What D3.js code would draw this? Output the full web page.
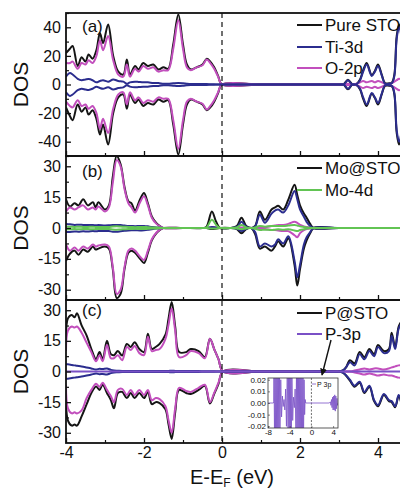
<!DOCTYPE html>
<html><head><meta charset="utf-8">
<script src="https://cdn.jsdelivr.net/npm/d3@7/dist/d3.min.js"></script>
<style>
body{margin:0;background:#fff;overflow:hidden}
text{font-family:"Liberation Sans",Arial,Helvetica,sans-serif;fill:#111}
</style></head>
<body><svg id="chart" width="400" height="490"></svg>
<script>
// ---------------- DATA ----------------
// Panel (a) Pure STO
const energyA = [-4.0,-3.9,-3.83,-3.7,-3.6,-3.5,-3.42,-3.32,-3.22,-3.13,-3.05,-2.92,-2.79,-2.66,-2.53,-2.44,-2.36,-2.23,-2.14,-2.02,-1.9,-1.76,-1.63,-1.5,-1.38,-1.25,-1.12,-1.0,-0.9,-0.8,-0.65,-0.5,-0.39,-0.3,-0.2,-0.1,0.0,
  1.0,2.0,3.0,3.12,3.23,3.34,3.45,3.54,3.62,3.71,3.84,3.92,4.0,4.1,4.18,4.28,4.36,4.42,4.48,4.54,4.62];
const pureSTOUp = [22,25,27,13,19,16,21,18,24,36,29,42,20,9,7,17.5,7,13,10.5,15,13,14,10.5,12,11,28,49,28,14,10.5,12,14,18,16,12,6,0,
  0,0,0,0.2,3.3,0.3,0.5,3.5,10,15,6.5,9.5,14,6.5,1,0.8,1.5,7,34,42,32];
const pureSTODown = [-16,-22,-25,-14,-19,-16,-21,-18,-24,-35,-28,-42,-20,-9,-7,-17,-7,-13,-10.5,-15,-13,-14,-10.5,-12,-11,-28,-49,-28,-14,-10.5,-12,-14,-18,-16,-12,-6,0,
  0,0,0,-0.2,-3.3,-0.3,-0.5,-3.5,-10,-15,-6.5,-9.5,-14,-6.5,-1,-0.8,-1.5,-7,-34,-42,-32];
const ti3dUpA = [5.5,8,7,4,3,3.5,3.8,3,1.5,2.5,3,2,3.5,2.5,2,0.5,1.5,2,1.8,1.5,1.5,1,1,0.5,0.5,0.8,1,0.8,0.5,0.3,0.3,0.3,0.3,0.2,0.1,0,0,
  0,0,0,0,3,0,0.3,3,9,14,6,9,13,6,0.5,0.5,1,6,32,40,30];
const ti3dDownA = [-5.5,-8,-7,-4,-3,-3.5,-3.8,-3,-1.5,-2.5,-3,-2,-3.5,-2.5,-2,-0.5,-1.5,-2,-1.8,-1.5,-1.5,-1,-1,-0.5,-0.5,-0.8,-1,-0.8,-0.5,-0.3,-0.3,-0.3,-0.3,-0.2,-0.1,0,0,
  0,0,0,0,-3,0,-0.3,-3,-9,-14,-6,-9,-13,-6,-0.5,-0.5,-1,-6,-32,-40,-30];
const o2pUpA = [15,15,16,11,15,14,17,15,20,31,24,34,17,7,5.5,14,5.5,11,9,13,11,12,9,10,10,25,45,25,12,10,12,13.5,17.5,15,11,5.5,0,
  0,0,0,0,0.5,0,0.5,1.5,2.5,1.5,2.5,1.5,2.5,1.5,0.5,0.3,1,2,3,4,3];
const o2pDownA = [-12,-15,-16,-11,-15,-14,-17,-15,-20,-31,-24,-34,-17,-7,-5.5,-14,-5.5,-11,-9,-13,-11,-12,-9,-10,-10,-25,-45,-25,-12,-10,-12,-13.5,-17.5,-15,-11,-5.5,0,
  0,0,0,0,-0.5,0,-0.5,-1.5,-2.5,-1.5,-2.5,-1.5,-2.5,-1.5,-0.5,-0.3,-1,-2,-3,-4,-3];

// Panel (b) Mo@STO
const energyB = [-4.0,-3.9,-3.78,-3.68,-3.56,-3.44,-3.31,-3.24,-3.17,-3.0,-2.9,-2.8,-2.7,-2.6,-2.5,-2.4,-2.32,-2.23,-2.1,-2.0,-1.9,-1.8,-1.68,-1.58,-1.5,
  -1.0,-0.5,-0.4,-0.26,-0.15,-0.05,0.2,0.38,0.5,0.62,0.75,0.85,0.97,1.1,1.27,1.36,1.44,1.57,1.7,1.86,1.93,2.0,2.1,2.17,2.26,2.35,3.0,4.0,5.0];
const moSTOUp = [14,10.5,12,11,14,11,12.5,10,12.5,9,11,25,35,31,20,13,12,8.5,14,17,12,5.6,2.3,0.8,0,
  0,0,0.5,8,3,0,0,1,5,1,0,1,8,4,9,10,10.8,9,13.8,21,16,11,7,5,2,0,0,0,0];
const moSTODown = [-16,-12.5,-11,-13,-10.5,-11.5,-9,-10.5,-10,-9,-10,-20,-34,-32,-20,-12,-11,-12,-15,-17,-12,-6,-2.5,-0.8,0,
  0,0,0,-0.5,-0.3,0,0,-0.5,-2.6,-0.5,0,-3,-10,-9,-11,-9,-6.5,-9,-5,-18,-28,-20,-10,-6,-2.6,0,0,0,0];
const o2pUpB = [8,10,9,10,11,9,10,9,10.5,8,10,22,33,30,19,12,10,7.5,12.5,15.4,11,5,2,0.7,0,
  0,0,0,0.3,0.2,0,0,0,0.3,0,0,0,0.5,0.3,1,1.2,1.5,1.5,2,3,2.5,1.5,0.8,0.5,0.2,0,0,0,0];
const o2pDownB = [-8,-11,-9.5,-11,-9,-10,-8,-9,-8.5,-8,-9,-19,-32,-30,-19,-11,-10,-11,-14,-15.5,-11,-5.5,-2.2,-0.7,0,
  0,0,0,0,0,0,0,0,-0.3,0,0,0,-0.5,-0.5,-1,-1,-1.2,-1.5,-1.5,-3.5,-4.5,-2.5,-1,-0.5,-0.2,0,0,0,0];
const ti3dUpB = [2,1.8,1.5,1.6,1.5,1.4,1.5,1.3,1.4,1.2,1.3,1.5,1.5,1.4,1.2,1,1,0.9,1,1,0.8,0.5,0.3,0.1,0,
  0,0,0,0.5,0.2,0,0,0.5,3,0.5,0,0.8,6.5,2.5,7,8.5,9,7.5,11,18,14,9,5.5,3,1,0,0,0,0];
const ti3dDownB = [-2,-1.9,-1.7,-1.8,-1.6,-1.7,-1.5,-1.6,-1.5,-1.4,-1.5,-1.8,-1.8,-1.6,-1.4,-1.2,-1.1,-1.1,-1.2,-1.1,-0.9,-0.6,-0.3,-0.1,0,
  0,0,0,0,0,0,0,-0.4,-1.5,-0.4,0,-2,-9,-7.5,-9,-8,-5.5,-7.5,-4,-16,-24,-18,-8,-4.5,-2,0,0,0,0];
const mo4dUp = [0.6,0.6,0.5,0.6,0.5,0.5,0.6,0.5,0.5,0.5,0.5,0.7,0.8,0.7,0.6,0.5,0.5,0.4,0.5,0.5,0.4,0.3,0.2,0.1,0,
  0,0,0.2,4,1.5,0,0,0.3,1.5,0.3,0,0.3,1,0.6,1,1,1,1,1.2,1.5,1.2,0.8,0.5,0.3,0.1,0,0,0,0];
const mo4dDown = [-0.6,-0.6,-0.5,-0.6,-0.5,-0.5,-0.6,-0.5,-0.5,-0.5,-0.5,-0.7,-0.8,-0.7,-0.6,-0.5,-0.5,-0.4,-0.5,-0.5,-0.4,-0.3,-0.2,-0.1,0,
  0,0,0,-0.3,-0.2,0,0,-0.2,-0.6,-0.2,0,-0.4,-1,-0.8,-1,-0.8,-0.6,-0.8,-0.6,-1.2,-1.5,-1,-0.6,-0.3,-0.1,0,0,0,0];

// Panel (c) P@STO
const energyC = [-4.0,-3.95,-3.85,-3.78,-3.72,-3.6,-3.47,-3.35,-3.23,-3.14,-3.06,-2.95,-2.85,-2.77,-2.67,-2.56,-2.44,-2.34,-2.24,-2.12,-2.0,-1.9,-1.8,-1.7,-1.6,-1.45,-1.37,-1.29,-1.2,-1.1,-0.92,-0.8,-0.6,-0.44,-0.31,-0.2,-0.09,0.03,
  1.0,2.0,3.0,3.1,3.18,3.28,3.4,3.53,3.65,3.78,3.9,4.0,4.15,4.28,4.35,4.44,4.53,4.62];
const pSTOUp = [16,26,27.6,26.5,28.5,22.6,17.6,11,6,9.5,6,15,8.5,8,10,7.8,13.5,12,14.3,11,9.5,18.5,11,12,13.5,18,26,34,22,9.5,9.5,11,10,7,16,11,6,0,
  0,0,0,0.5,2,5.5,4,9.5,7,11,8.5,13,10,11,19,12,22,25];
const pSTODown = [-10.5,-24,-26.5,-26,-26.5,-22,-16,-10.5,-7.3,-9,-6.5,-10.5,-14,-18,-10.5,-10,-13,-10.5,-13,-10.5,-13,-10,-16,-15,-15.5,-18.5,-26,-33,-20,-9,-10.5,-11,-9,-7,-15.7,-11,-6,0,
  0,0,0,-0.5,-2,-4.5,-7.5,-5.5,-10.5,-7.5,-14.5,-17,-11.5,-14.5,-15,-17.5,-12,-18];
const o2pUpC = [10,20,22,21.5,22,19,14,9.5,5,8,5,13,6.5,6.5,8,5.5,12,10.5,12.5,9,8,17,10,10.5,11,16,23,31,20,7,8,10,9,6.5,16,11,6,0,
  0,0,0,0,0,0,0.5,1,1.5,1,1.5,1.5,1,1.5,2,2.5,3,3];
const o2pDownC = [-6.5,-18,-20.5,-20,-20.5,-19,-13,-9,-6,-7.5,-5.5,-9,-12,-15,-9,-8.5,-11.5,-9,-11.5,-9,-11.5,-9,-14,-13,-13.5,-17,-24,-30,-18,-8,-9.5,-10,-8,-6.5,-15,-10.5,-5.5,0,
  0,0,0,0,0,0,-0.5,-1,-1.5,-1,-1.5,-2,-1.5,-2,-2,-2.5,-3,-3];
const ti3dUpC = [3.5,3.5,3.2,3,2.8,2.5,2,1.5,1,1.3,1.2,1.5,0.8,0.5,0.4,0.3,0.3,0.3,0.3,0.3,0.3,0.3,0.3,0.3,0.3,0.3,0.3,0.4,0.3,0.2,0.2,0.2,0.2,0.1,0.1,0.1,0,0,
  0,0,0,0.5,2,4.5,3,8.5,6,10,7.5,12,9,10,17.5,11,21,24];
const ti3dDownC = [-3.5,-3.5,-3.2,-3,-2.8,-2.5,-2,-1.5,-1,-1.3,-1.2,-1.5,-0.8,-0.5,-0.4,-0.3,-0.3,-0.3,-0.3,-0.3,-0.3,-0.3,-0.3,-0.3,-0.3,-0.3,-0.3,-0.4,-0.3,-0.2,-0.2,-0.2,-0.2,-0.1,-0.1,-0.1,0,0,
  0,0,0,-0.5,-1.8,-4,-7,-5,-10,-7,-14,-16.5,-11,-14,-14.5,-17,-11.5,-17];
const p3pEnergy = [-4.0, 0.0, 4.62];
const p3pUp = [0.15, 0.1, 0.15];
const p3pDown = [-0.15, -0.1, -0.15];

// Inset: P 3p zoom
const insetEnergy = [-8,-7.0,-6.95,-6.9,-6.8,-6.7,-6.6,-6.5,-6.4,-6.3,-6.2,-6.1,-6.0,-5.9,-5.8,
  -5.65,-5.5,-5.35,-5.2,-5.05,-4.9,-4.75,-4.6,-4.45,
  -4.3,-4.2,-4.1,-4.0,-3.9,-3.8,-3.7,-3.6,
  -3.45,-3.3,-3.15,-3.0,-2.85,
  -2.75,-2.65,-2.55,-2.45,-2.35,-2.25,-2.15,-2.05,-1.95,-1.85,-1.75,-1.65,-1.55,-1.45,-1.35,-1.25,-1.15,-1.05,
  3.3,3.5,3.6,3.7,3.8,3.9,4.0,4.1,4.2,4.3,4.4,4.5,4.6,4.7,4.8,4.9];
const insetP3p = [0,0,0.001,0.03,-0.03,0.03,-0.03,0.03,-0.03,0.03,-0.03,0.03,-0.03,0.03,-0.03,
  0.02,-0.012,0.006,-0.003,0.003,-0.006,0.012,-0.02,0.03,
  -0.03,0.03,-0.03,0.03,-0.03,0.03,-0.03,0.03,
  -0.015,0.005,-0.004,0.012,-0.025,
  0.03,-0.03,0.03,-0.03,0.03,-0.03,0.03,-0.03,0.03,-0.03,0.03,-0.03,0.03,-0.03,0.02,-0.01,0.003,0,
  0,0.001,-0.002,0.003,-0.004,0.005,-0.006,0.006,-0.006,0.007,-0.007,0.006,-0.005,0.004,-0.002,0];

const xTicks = [-4,-2,0,2,4];
const xMinorTicks = [-3,-1,1,3];
const insetXTicks = [-8,-4,0,4];
const insetYTicks = [0.02,0.01,0.00,-0.01,-0.02];

// ---------------- DRAW ----------------
const COL = {black:"#151515", blue:"#2b2d8e", pink:"#c24fbd", green:"#62c453", purple:"#7a50c6"};
const svg = d3.select("#chart");
const x = d3.scaleLinear().domain([-4,5]).range([66,417]);

const panels = [
  {top:13, bottom:156, dom:[-50,50], ticks:[-40,-20,0,20,40], minor:[-50,-30,-10,10,30,50], label:"(a)",
   E:energyA, series:[[pureSTOUp,COL.black],[pureSTODown,COL.black],[o2pUpA,COL.pink],[o2pDownA,COL.pink],[ti3dUpA,COL.blue],[ti3dDownA,COL.blue]],
   legend:[["Pure STO",COL.black],["Ti-3d",COL.blue],["O-2p",COL.pink]], legY:[25,47,68], labY:32},
  {top:156, bottom:300, dom:[-35,35], ticks:[-30,-15,0,15,30], minor:[-22.5,-7.5,7.5,22.5], label:"(b)",
   E:energyB, series:[[moSTOUp,COL.black],[moSTODown,COL.black],[o2pUpB,COL.pink],[o2pDownB,COL.pink],[ti3dUpB,COL.blue],[ti3dDownB,COL.blue],[mo4dUp,COL.green],[mo4dDown,COL.green]],
   legend:[["Mo@STO",COL.black],["Mo-4d",COL.green]], legY:[168,190], labY:177},
  {top:300, bottom:443, dom:[-35,35], ticks:[-30,-15,0,15,30], minor:[-22.5,-7.5,7.5,22.5], label:"(c)",
   E:energyC, series:[[pSTOUp,COL.black],[pSTODown,COL.black],[o2pUpC,COL.pink],[o2pDownC,COL.pink],[ti3dUpC,COL.blue],[ti3dDownC,COL.blue]],
   legend:[["P@STO",COL.black],["P-3p",COL.purple]], legY:[313,334], labY:316}
];

panels.forEach((p,pi)=>{
  const y = d3.scaleLinear().domain(p.dom).range([p.bottom,p.top]);
  const g = svg.append("g");
  const cid = "clip"+pi;
  svg.append("clipPath").attr("id",cid).append("rect")
    .attr("x",66).attr("y",p.top).attr("width",400).attr("height",p.bottom-p.top);
  const lg = g.append("g").attr("clip-path",`url(#${cid})`);
  const line = d3.line().x((d,i)=>x(p.E[i])).y(d=>y(d)).curve(d3.curveCatmullRom.alpha(0.5));
  p.series.forEach(([vals,c])=>{
    lg.append("path").datum(vals).attr("d",line).attr("fill","none")
      .attr("stroke",c).attr("stroke-width",2).attr("stroke-linejoin","round");
  });
  if(pi===2){
    const l2 = d3.line().x((d,i)=>x(p3pEnergy[i])).y(d=>y(d));
    [p3pUp,p3pDown].forEach(v=>lg.append("path").datum(v).attr("d",l2).attr("fill","none")
      .attr("stroke",COL.purple).attr("stroke-width",1.6));
  }
  // y axis
  const ya = g.append("g").attr("transform","translate(66,0)")
    .call(d3.axisLeft(y).tickValues(p.ticks).tickSize(-5).tickPadding(5).tickFormat(d=>String(d)));
  ya.select(".domain").remove();
  ya.selectAll("line").attr("stroke","#111").attr("stroke-width",1.3);
  ya.selectAll("text").style("font-size","16px").attr("fill","#111");
  const ym = g.append("g").attr("transform","translate(66,0)")
    .call(d3.axisLeft(y).tickValues(p.minor).tickSize(-3).tickFormat(""));
  ym.select(".domain").remove();
  ym.selectAll("line").attr("stroke","#111").attr("stroke-width",1.2);
  // x axis (bottom, inward ticks)
  const xa = g.append("g").attr("transform",`translate(0,${p.bottom})`)
    .call(d3.axisBottom(x).tickValues(xTicks).tickSize(-5).tickPadding(4).tickFormat(pi===2? (d=>String(d)) : ""));
  xa.select(".domain").remove();
  xa.selectAll("line").attr("stroke","#111").attr("stroke-width",1.3);
  xa.selectAll("text").style("font-size","16px").attr("fill","#111");
  const xm = g.append("g").attr("transform",`translate(0,${p.bottom})`)
    .call(d3.axisBottom(x).tickValues(xMinorTicks).tickSize(-3).tickFormat(""));
  xm.select(".domain").remove();
  xm.selectAll("line").attr("stroke","#111").attr("stroke-width",1.2);
  // frame
  g.append("rect").attr("x",66).attr("y",p.top).attr("width",400).attr("height",p.bottom-p.top)
    .attr("fill","none").attr("stroke","#111").attr("stroke-width",1.8);
  // panel label
  g.append("text").attr("x",82).attr("y",p.labY).text(p.label).style("font-size","17px");
  // DOS label
  g.append("text").attr("transform",`translate(28,${y(0)}) rotate(-90)`).attr("text-anchor","middle")
    .text("DOS").style("font-size","21px");
  // legend
  p.legend.forEach(([name,c],i)=>{
    const ly = p.legY[i];
    g.append("line").attr("x1",297).attr("x2",322).attr("y1",ly).attr("y2",ly)
      .attr("stroke",c).attr("stroke-width",2);
    g.append("text").attr("x",325).attr("y",ly+6).text(name).style("font-size","17px");
  });
});

// Fermi level dashed line
svg.append("line").attr("x1",x(0)).attr("x2",x(0)).attr("y1",13).attr("y2",443)
  .attr("stroke","#111").attr("stroke-width",1.2).attr("stroke-dasharray","5,4");

// x axis title
const xt = svg.append("text").attr("x",232).attr("y",484).attr("text-anchor","middle").style("font-size","20px");
xt.append("tspan").text("E-E");
xt.append("tspan").attr("dy",3).style("font-size","12px").text("F");
xt.append("tspan").attr("dy",-3).text(" (eV)");

// Arrow from P-3p legend to line
svg.append("defs").append("marker").attr("id","arrow").attr("viewBox","0 0 10 10")
  .attr("refX",9).attr("refY",5).attr("markerWidth",5).attr("markerHeight",5).attr("orient","auto")
  .append("path").attr("d","M0,0 L10,5 L0,10 z").attr("fill","#111");
svg.append("line").attr("x1",331).attr("y1",340).attr("x2",322).attr("y2",375)
  .attr("stroke","#111").attr("stroke-width",1.4).attr("marker-end","url(#arrow)");

// Inset
const ix = d3.scaleLinear().domain([-8,4.9]).range([268,338]);
const iy = d3.scaleLinear().domain([-0.0215,0.0215]).range([428,378]);
const ig = svg.append("g");
ig.append("rect").attr("x",268).attr("y",378).attr("width",70).attr("height",50).attr("fill","#fff");
svg.append("clipPath").attr("id","iclip").append("rect").attr("x",268).attr("y",378).attr("width",70).attr("height",50);
ig.append("line").attr("x1",ix(0)).attr("x2",ix(0)).attr("y1",378).attr("y2",428)
  .attr("stroke","#333").attr("stroke-width",0.7).attr("stroke-dasharray","2,1.5");
const il = d3.line().x((d,i)=>ix(insetEnergy[i])).y(d=>iy(d));
ig.append("g").attr("clip-path","url(#iclip)").append("path").datum(insetP3p).attr("d",il)
  .attr("fill","none").attr("stroke",COL.purple).attr("stroke-width",0.8);
const iya = ig.append("g").attr("transform","translate(268,0)")
  .call(d3.axisLeft(iy).tickValues(insetYTicks).tickSize(-2).tickPadding(2).tickFormat(d3.format(".2f")));
iya.select(".domain").remove();
iya.selectAll("line").attr("stroke","#333").attr("stroke-width",0.6);
iya.selectAll("text").style("font-size","8px").attr("fill","#222").text(d=>d3.format(".2f")(d).replace("−","-"));
const ixa = ig.append("g").attr("transform","translate(0,428)")
  .call(d3.axisBottom(ix).tickValues(insetXTicks).tickSize(-2).tickPadding(1).tickFormat(d=>String(d)));
ixa.select(".domain").remove();
ixa.selectAll("line").attr("stroke","#333").attr("stroke-width",0.6);
ixa.selectAll("text").style("font-size","8px").attr("fill","#222");
ig.append("rect").attr("x",268).attr("y",378).attr("width",70).attr("height",50)
  .attr("fill","none").attr("stroke","#333").attr("stroke-width",0.8);
ig.append("line").attr("x1",312).attr("x2",316).attr("y1",384).attr("y2",384).attr("stroke",COL.purple).attr("stroke-width",0.8);
ig.append("text").attr("x",317).attr("y",387).text("P 3p").style("font-size","7px").attr("fill","#222");
</script></body></html>
